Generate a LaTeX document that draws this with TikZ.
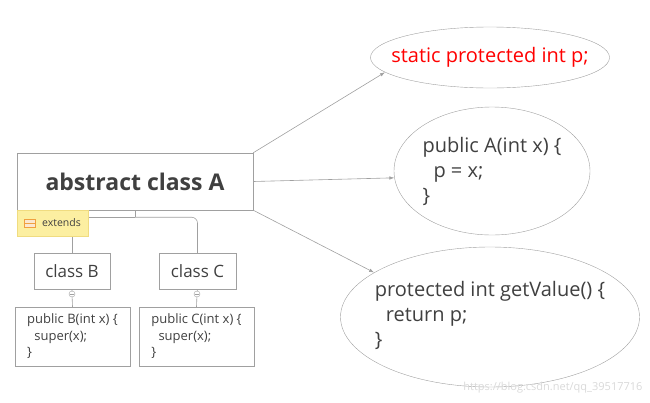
\documentclass[tikz,border=0pt]{standalone}
\usepackage{fontspec}
\setmainfont{Open Sans}
\usepackage{tikz}
\usetikzlibrary{positioning,arrows.meta,shapes.geometric}

\definecolor{txtgray}{HTML}{404040}
\definecolor{linegray}{HTML}{A0A0A0}
\definecolor{tagyellow}{HTML}{FCEFA1}
\definecolor{tagedge}{HTML}{F0DC80}
\definecolor{tagicon}{HTML}{F0A040}
\newcommand{\ind}{\hspace*{.55em}}

\begin{document}
\begin{tikzpicture}[x=1pt,y=-1pt,every node/.style={text=txtgray},
	classbox/.style={draw=linegray,rectangle,inner sep=0pt},
	codebox/.style={draw=linegray,rectangle,inner sep=0pt,align=left,minimum width=115,minimum height=59,font=\fontsize{13}{16.5}\selectfont},
	bubble/.style={draw=linegray,ellipse,inner sep=0pt},
	bubbletext/.style={align=left,inner sep=0pt,font=\fontsize{20}{25}\selectfont},
	minus/.style={circle,draw=linegray,fill=white,minimum size=6,inner sep=0pt},
	link/.style={draw=linegray,line width=.6pt},
	arrow/.style={link,-{Latex[length=5pt,width=3.5pt]}}]

		\useasboundingbox (0,0) rectangle (650,402);

		%class nodes
		\node[classbox,minimum width=236,minimum height=57,font=\fontsize{23}{28}\selectfont\bfseries] (A) at (135,181.5) {abstract class A};
		\node[classbox,minimum width=76,minimum height=36,font=\fontsize{17}{20}\selectfont] (B) at (72,271) {class B};
		\node[classbox,minimum width=77,minimum height=36,font=\fontsize{17}{20}\selectfont] (C) at (197.5,271) {class C};

		%code nodes
		\node[codebox] (bodyB) at (72.5,336.5) {public B(int x) \{\\\ind super(x);\\\}};
		\node[codebox] (bodyC) at (196.5,336.5) {public C(int x) \{\\\ind super(x);\\\}};
		\node[minus] (mB) at (72,294) {};
		\node[minus] (mC) at (197,294) {};

		%member nodes
		\node[bubble,minimum width=239,minimum height=61] (field) at (490,57.5) {};
		\node[bubble,minimum width=196,minimum height=128] (ctor) at (492,171) {};
		\node[bubble,minimum width=299,minimum height=140] (getter) at (490,317) {};
		\node[bubbletext,text=red] (fieldtext) at (field.center) {static protected int p;};
		\node[bubbletext] (ctortext) at (ctor.center) {public A(int x) \{\\\ind p = x;\\\}};
		\node[bubbletext] (gettertext) at ([yshift=2]getter.center) {protected int getValue() \{\\\ind return p;\\\}};

		%edges
		\draw[link] (A.south) -- ++(0,7) coordinate (fork);
		\draw[link] (fork) -| (B.north);
		\draw[link,rounded corners=6pt] (fork) -| (C.north);
		\draw[link] (B.south) -- (mB) -- (bodyB.north);
		\draw[link] (C.south) -- (mC) -- (bodyC.north);
		\draw[linegray,line width=.5pt] ([xshift=1.5pt]mB.west) -- ([xshift=-1.5pt]mB.east);
		\draw[linegray,line width=.5pt] ([xshift=1.5pt]mC.west) -- ([xshift=-1.5pt]mC.east);

		%extends tag
		\node[fill=tagyellow,draw=tagedge,minimum width=71,minimum height=26,inner sep=0pt] (tag) at (52.5,223) {};
		\node[draw=tagicon,fill=tagicon!25,minimum width=11,minimum height=8,inner sep=0pt] (icon) at (29.5,223) {};
		\draw[tagicon] (icon.west) -- (icon.east);
		\node[anchor=west,inner sep=0pt,font=\fontsize{10.5}{12}\selectfont] (tagtext) at (42,223) {extends};

		%arrows
		\draw[arrow] (A.north east) -- (field.188);
		\draw[arrow] (A.east) -- (ctor.184);
		\draw[arrow] (A.south east) -- (getter.159);

		\node[anchor=east,text=gray!30,font=\fontsize{11}{13}\selectfont] (mark) at (646,388) {https://blog.csdn.net/qq\_39517716};

\end{tikzpicture}
\end{document}
